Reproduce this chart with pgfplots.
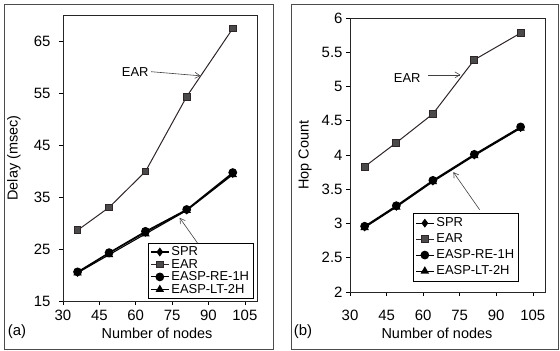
\documentclass[border=0pt]{standalone}
\usepackage{pgfplots}
\pgfplotsset{compat=1.18}
\usepackage{fontspec}
\setmainfont{Liberation Sans}
\usetikzlibrary{arrows.meta}
\definecolor{earline}{HTML}{2E2626}
\definecolor{earmark}{HTML}{4A4A4A}
\definecolor{arr}{HTML}{404040}
\tikzset{annot/.style={arr, line width=0.6bp, -{Straight Barb[length=5bp,width=6bp]}}}
\pgfplotsset{
  common/.style={
    scale only axis, anchor=south west,
    axis line style={black!85, line width=0.6bp},
    tick style={black, line width=0.6bp},
    tick align=outside, major tick length=4bp,
    xtick pos=lower, ytick pos=left,
    xmin=30, xmax=110, xtick={30,45,...,105},
    /pgf/number format/assume math mode=true,
    tick label style={font=\fontsize{15}{17}\selectfont},
    label style={font=\fontsize{14.5}{16}\selectfont},
    legend cell align=left,
    legend style={font=\fontsize{13}{14}\selectfont, draw=black, line width=0.6bp,
      inner xsep=2bp, inner ysep=1.5bp, row sep=-2bp, anchor=north west},
    legend image code/.code={\draw[mark repeat=2,mark phase=2] plot coordinates {(0bp,0bp) (9bp,0bp) (18bp,0bp)};},
    clip=false,
  },
  spr/.style={black, line width=1.1bp, mark=diamond*, mark size=3.6bp, mark options={solid,fill=black}},
  ear/.style={earline, line width=1bp, mark=square*, mark size=3.4bp, mark options={solid,fill=earmark,draw=earline}},
  re/.style={black, line width=1.1bp, mark=*, mark size=3.8bp, mark options={solid,fill=black}},
  lt/.style={black, line width=1.1bp, mark=triangle*, mark size=3.8bp, mark options={solid,fill=black}},
}
\begin{document}
\begin{tikzpicture}
\path[use as bounding box] (0,0) rectangle (560bp,351bp);
% ---------- (a) Delay ----------
\begin{axis}[common, at={(63bp,50bp)}, width=194bp, height=286bp,
  ymin=15, ymax=70, ytick={15,25,...,65},
  xlabel={Number of nodes}, ylabel={Delay (msec)},
  xlabel style={at={(axis description cs:0.485,-0.112)},anchor=center},
  ylabel style={at={(axis description cs:-0.2526,0.5)},anchor=center},
  xticklabel style={yshift=-2bp}, yticklabel style={xshift=-5bp},
  legend style={at={(axis description cs:0.438,0.203)}}]
\addplot[spr] coordinates {(36,20.5) (49,24.2) (64,28.2) (81,32.5) (100,39.5)};
\addlegendentry{SPR}
\addplot[ear] coordinates {(36,28.6) (49,33.0) (64,39.9) (81,54.3) (100,67.4)};
\addlegendentry{EAR}
\addplot[re] coordinates {(36,20.6) (49,24.3) (64,28.4) (81,32.6) (100,39.7)};
\addlegendentry{EASP-RE-1H}
\addplot[lt] coordinates {(36,20.4) (49,23.9) (64,27.9) (81,32.4) (100,39.3)};
\addlegendentry{EASP-LT-2H}
\node[font=\fontsize{13}{15}\selectfont] at (axis cs:59.8,59.1) {EAR};
\draw[annot] (axis cs:66.3,59.1) -- (axis cs:86.7,58.3);
\draw[annot] (axis cs:85.4,26.2) -- (axis cs:78.1,31.0);
\end{axis}
% ---------- (b) Hop count ----------
\begin{axis}[common, at={(350bp,59bp)}, width=195bp, height=274bp,
  ymin=2, ymax=6, ytick={2,2.5,...,6},
  xlabel={Number of nodes}, ylabel={Hop Count},
  xlabel style={at={(axis description cs:0.446,-0.15)},anchor=center},
  ylabel style={at={(axis description cs:-0.231,0.5)},anchor=center},
  xticklabel style={yshift=-11bp}, yticklabel style={xshift=0bp},
  legend style={at={(axis description cs:0.323,0.288)}, row sep=1.5bp, inner ysep=2.5bp}]
\addplot[spr] coordinates {(36,2.95) (49,3.25) (64,3.62) (81,4.0) (100,4.40)};
\addlegendentry{SPR}
\addplot[ear] coordinates {(36,3.83) (49,4.18) (64,4.60) (81,5.39) (100,5.78)};
\addlegendentry{EAR}
\addplot[re] coordinates {(36,2.96) (49,3.26) (64,3.63) (81,4.01) (100,4.41)};
\addlegendentry{EASP-RE-1H}
\addplot[lt] coordinates {(36,2.94) (49,3.24) (64,3.61) (81,3.99) (100,4.39)};
\addlegendentry{EASP-LT-2H}
\node[font=\fontsize{13}{15}\selectfont] at (axis cs:53.5,5.12) {EAR};
\draw[annot] (axis cs:62.1,5.17) -- (axis cs:75.3,5.17);
\draw[annot] (axis cs:83.2,3.2) -- (axis cs:72.4,3.75);
\end{axis}
\node[font=\fontsize{15}{17}\selectfont] at (17bp,19bp) {(a)};
\node[font=\fontsize{15}{17}\selectfont] at (303bp,19bp) {(b)};
\draw[black!70, line width=0.8bp] (4bp,2bp) rectangle (273bp,347bp);
\draw[black!70, line width=0.8bp] (291bp,2bp) rectangle (558bp,347bp);
\end{tikzpicture}
\end{document}
